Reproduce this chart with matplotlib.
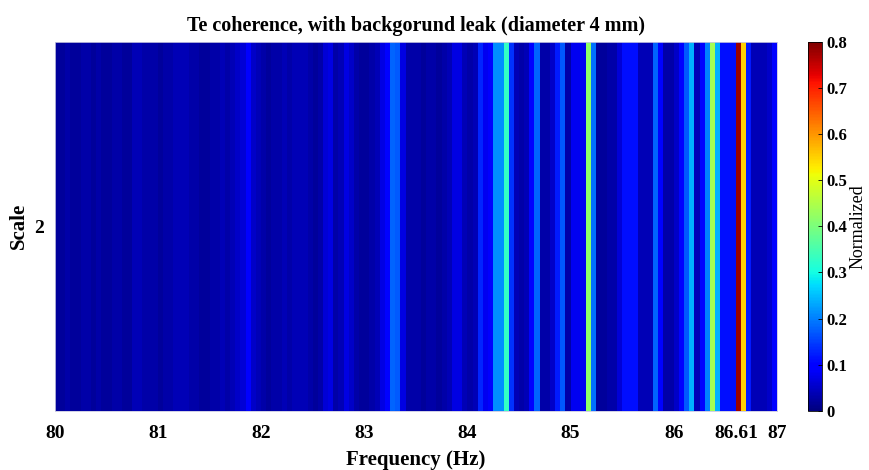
#
# Te coherence stripe chart (single scale row) with jet colour bar
#
import matplotlib
matplotlib.use("Agg")
import matplotlib.pyplot as plt
import numpy as np

# frequency bins, 0.05 Hz wide, from 80 to 87 Hz
f_start = 80.0
f_step = 0.05
coherence = [
    # 80.00 - 81.15
    0.02, 0.02, 0.03, 0.02, 0.02, 0.03, 0.03, 0.02, 0.03, 0.02, 0.02, 0.03,
    0.03, 0.02, 0.02, 0.04, 0.04, 0.03, 0.03, 0.03, 0.02, 0.03, 0.03, 0.04,
    # 81.20 - 82.35
    0.04, 0.04, 0.03, 0.03, 0.02, 0.02, 0.03, 0.03, 0.04, 0.03, 0.04, 0.05,
    0.06, 0.09, 0.05, 0.04, 0.03, 0.02, 0.03, 0.03, 0.04, 0.03, 0.04, 0.04,
    # 82.40 - 83.45
    0.04, 0.03, 0.02, 0.03, 0.06, 0.07, 0.03, 0.04, 0.07, 0.05, 0.03, 0.02,
    0.02, 0.03, 0.04, 0.07, 0.10, 0.18, 0.17, 0.07, 0.03, 0.03,
    # 83.50 - 84.65
    0.03, 0.02, 0.03, 0.03, 0.02, 0.03, 0.04, 0.07, 0.07, 0.04, 0.03, 0.04,
    0.13, 0.08, 0.09, 0.21, 0.21, 0.33, 0.14, 0.04, 0.03, 0.04, 0.10, 0.18,
    # 84.70 - 85.75
    0.03, 0.03, 0.05, 0.12, 0.17, 0.03, 0.08, 0.08, 0.08, 0.42, 0.19, 0.02,
    0.02, 0.03, 0.03, 0.06, 0.11, 0.11, 0.11, 0.04, 0.04, 0.04,
    # 85.80 - 86.95
    0.18, 0.10, 0.03, 0.03, 0.05, 0.10, 0.17, 0.24, 0.04, 0.10, 0.20, 0.44,
    0.24, 0.11, 0.11, 0.11, 0.78, 0.55, 0.12, 0.04, 0.04, 0.04, 0.05, 0.10,
]
scales = [2]
x_ticks = [80, 81, 82, 83, 84, 85, 86, 86.61, 87]
x_tick_labels = ["80", "81", "82", "83", "84", "85", "86", "86.61", "87"]
cbar_ticks = [0, 0.1, 0.2, 0.3, 0.4, 0.5, 0.6, 0.7, 0.8]

plt.rcParams["font.family"] = ["Liberation Serif", "DejaVu Serif"]

coherence = np.array(coherence)
f_edges = f_start + f_step * np.arange(len(coherence) + 1)
s_edges = np.array([scales[0] - 0.5, scales[0] + 0.5])

fig = plt.figure(figsize=(8.7, 4.7), dpi=100)
ax = fig.add_axes([0.063, 0.126, 0.830, 0.785])
cax = fig.add_axes([0.929, 0.126, 0.016, 0.785])

mesh = ax.pcolormesh(
    f_edges, s_edges, coherence[np.newaxis, :], cmap="jet", vmin=0, vmax=0.8,
    shading="flat",
)
ax.set_xlim(80, 87)
ax.set_ylim(s_edges[0], s_edges[1])
ax.set_xticks(x_ticks)
ax.set_xticklabels(x_tick_labels, fontsize=14, fontweight="bold")
ax.set_yticks(scales)
ax.set_yticklabels([str(s) for s in scales], fontsize=14, fontweight="bold")
ax.tick_params(axis="x", length=0, pad=10)
ax.tick_params(axis="y", length=0, pad=8)
for spine in ax.spines.values():
    spine.set_color("#c8c8e0")
    spine.set_linewidth(0.6)

ax.set_title(
    "Te coherence, with backgorund leak (diameter 4 mm)",
    fontsize=14.5, fontweight="bold", pad=8,
)
ax.set_xlabel("Frequency (Hz)", fontsize=15, fontweight="bold", labelpad=6)
ax.set_ylabel("Scale", fontsize=15, fontweight="bold")
ax.yaxis.set_label_coords(-0.036, 0.5)

cbar = fig.colorbar(mesh, cax=cax, ticks=cbar_ticks)
cbar.ax.set_yticklabels([f"{t:g}" for t in cbar_ticks], fontsize=12, fontweight="bold")
cbar.ax.tick_params(length=3, width=0.6, direction="in", pad=3)
cbar.outline.set_linewidth(0.6)
cbar.set_label("Normalized", fontsize=13, labelpad=2)

fig.savefig("out.png", dpi=100)
